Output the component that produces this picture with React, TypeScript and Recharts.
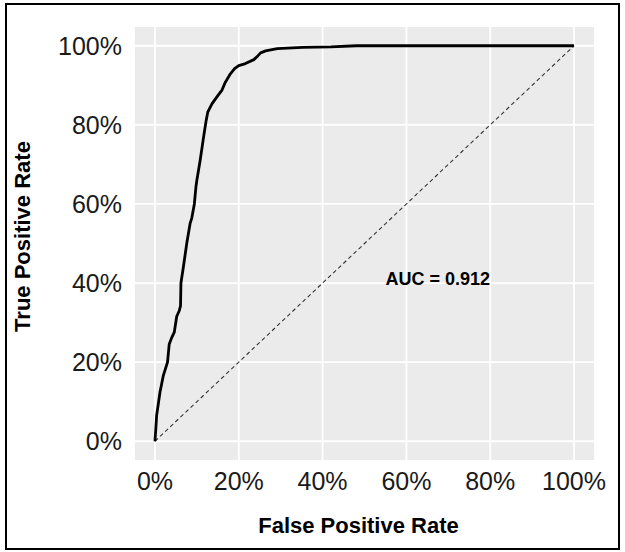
import { LineChart, Line, XAxis, YAxis, CartesianGrid, ReferenceLine, ReferenceDot } from 'recharts';

// ROC curve points
const fprValues = [0, 0.002, 0.004, 0.012, 0.02, 0.03, 0.034, 0.04, 0.046, 0.052, 0.058, 0.061, 0.062, 0.068, 0.076, 0.084, 0.088, 0.094, 0.098, 0.1, 0.108, 0.116, 0.122, 0.126, 0.136, 0.15, 0.16, 0.168, 0.18, 0.19, 0.2, 0.216, 0.236, 0.246, 0.252, 0.264, 0.292, 0.352, 0.42, 0.48, 1.0];
const tprValues = [0, 0.03, 0.065, 0.124, 0.166, 0.2, 0.245, 0.262, 0.275, 0.316, 0.33, 0.342, 0.4, 0.442, 0.501, 0.551, 0.565, 0.6, 0.645, 0.66, 0.711, 0.769, 0.81, 0.832, 0.853, 0.874, 0.888, 0.908, 0.929, 0.942, 0.95, 0.955, 0.965, 0.975, 0.982, 0.987, 0.993, 0.996, 0.997, 1.0, 1.0];

// chance line
const chanceFpr = [0, 1];
const chanceTpr = [0, 1];

const axisTicks = [0, 0.2, 0.4, 0.6, 0.8, 1.0];
const axisDomain = [-0.05, 1.05];

const aucText = 'AUC = 0.912';
const aucFpr = 0.675;
const aucTpr = 0.41;

const xTitle = 'False Positive Rate';
const yTitle = 'True Positive Rate';

const rocData = fprValues.map((fpr, i) => ({ fpr, tpr: tprValues[i] }));

const FONT = '"Liberation Sans", Arial, sans-serif';
const pct = (v: number) => `${Math.round(v * 100)}%`;

function YTitle({ viewBox }: any) {
    const x = viewBox.x + 22;
    const y = viewBox.y + viewBox.height / 2 - 7;
    return (
        <text x={x} y={y} transform={`rotate(-90, ${x}, ${y})`} textAnchor="middle" dominantBaseline="central"
              fontFamily={FONT} fontWeight="bold" fontSize={22} fill="#000">
            {yTitle}
        </text>
    );
}

function XTitle({ viewBox }: any) {
    return (
        <text x={viewBox.x + viewBox.width / 2 - 6} y={viewBox.y + 72} textAnchor="middle"
              fontFamily={FONT} fontWeight="bold" fontSize={22} fill="#000">
            {xTitle}
        </text>
    );
}

export default function App() {
    return (
        <div style={{ position: 'absolute', left: 0, top: 0, width: 625, height: 552, background: '#fff' }}>
            {/* outer frame */}
            <div style={{ position: 'absolute', left: 5, top: 3, width: 611, height: 543, border: '2px solid #000' }} />
            <div style={{ position: 'absolute', left: 0, top: 0 }}>
                <LineChart width={625} height={552} data={rocData}
                           margin={{ top: 26, right: 30, bottom: 0, left: 0 }}>
                    <CartesianGrid fill="#EBEBEB" stroke="#fff" strokeWidth={1.8} />
                    <XAxis
                        dataKey="fpr"
                        type="number"
                        domain={axisDomain}
                        ticks={axisTicks}
                        tickFormatter={pct}
                        height={91}
                        tickLine={false}
                        axisLine={false}
                        tickSize={0}
                        tickMargin={11}
                        tick={{ fontSize: 25, fill: '#1a1a1a', fontFamily: FONT }}
                        label={<XTitle />}
                    />
                    <YAxis
                        type="number"
                        domain={axisDomain}
                        ticks={axisTicks}
                        tickFormatter={pct}
                        width={134}
                        tickLine={false}
                        axisLine={false}
                        tickSize={0}
                        tickMargin={12}
                        tick={{ fontSize: 25, fill: '#1a1a1a', fontFamily: FONT }}
                        label={<YTitle />}
                    />
                    <ReferenceLine
                        segment={[{ x: chanceFpr[0], y: chanceTpr[0] }, { x: chanceFpr[1], y: chanceTpr[1] }]}
                        stroke="#333"
                        strokeWidth={1.1}
                        strokeDasharray="4 3"
                    />
                    <Line
                        type="linear"
                        dataKey="tpr"
                        stroke="#000"
                        strokeWidth={2.8}
                        strokeLinejoin="round"
                        dot={false}
                        activeDot={false}
                        isAnimationActive={false}
                    />
                    <ReferenceDot
                        x={aucFpr}
                        y={aucTpr}
                        r={0}
                        fill="none"
                        stroke="none"
                        label={{ value: aucText, position: 'center', fontFamily: FONT, fontWeight: 'bold', fontSize: 18, fill: '#000' }}
                    />
                </LineChart>
            </div>
        </div>
    );
}
